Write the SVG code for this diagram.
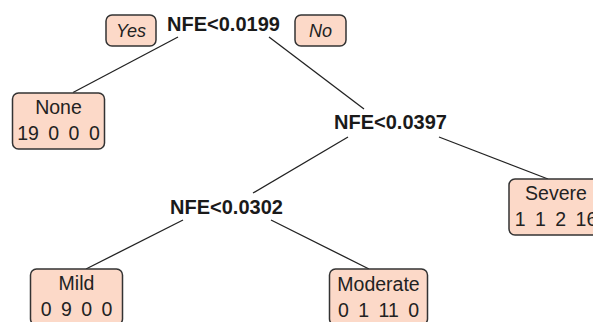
<svg xmlns="http://www.w3.org/2000/svg" width="593" height="322" viewBox="0 0 593 322">
<style>
.box{fill:#fcd9c8;stroke:#333;stroke-width:1.5}
.lbl{font-family:"Liberation Sans",Arial,sans-serif;font-size:19.5px;fill:#222;text-anchor:middle}
.cnt{word-spacing:4px}
.split{font-family:"Liberation Sans",Arial,sans-serif;font-size:20px;font-weight:bold;fill:#1a1a1a;text-anchor:middle}
.yn{font-family:"Liberation Sans",Arial,sans-serif;font-size:18px;font-style:italic;fill:#222;text-anchor:middle}
.edge{stroke:#222;stroke-width:1.3;fill:none}
</style>
<rect width="593" height="322" fill="#fff"/>
<g id="connectors">
<line class="edge" x1="178" y1="37" x2="73" y2="92.5"/>
<line class="edge" x1="269" y1="37" x2="364" y2="109"/>
<line class="edge" x1="348" y1="137" x2="253" y2="193"/>
<line class="edge" x1="439" y1="137" x2="548" y2="179"/>
<line class="edge" x1="183" y1="220" x2="86" y2="269"/>
<line class="edge" x1="271" y1="220" x2="369" y2="269"/>
</g>
<g id="edge-labels">
<g id="yes"><rect class="box" x="106" y="15" width="50" height="31" rx="6"/><text class="yn" x="131" y="37">Yes</text></g>
<g id="no"><rect class="box" x="295" y="15" width="51" height="31" rx="6"/><text class="yn" x="320.5" y="37">No</text></g>
</g>
<g id="split1"><text class="split" x="223.5" y="31">NFE&lt;0.0199</text></g>
<g id="split2"><text class="split" x="390.5" y="129">NFE&lt;0.0397</text></g>
<g id="split3"><text class="split" x="226.5" y="214">NFE&lt;0.0302</text></g>
<g id="none"><rect class="box" x="12.5" y="93" width="92" height="56" rx="6"/><text class="lbl" x="58.5" y="114">None</text><text class="lbl cnt" x="58.5" y="140">19 0 0 0</text></g>
<g id="severe"><rect class="box" x="509" y="179" width="94" height="56" rx="6"/><text class="lbl" x="556" y="200">Severe</text><text class="lbl cnt" x="556" y="226">1 1 2 16</text></g>
<g id="mild"><rect class="box" x="30.5" y="269" width="92" height="56" rx="6"/><text class="lbl" x="76.5" y="290">Mild</text><text class="lbl cnt" x="76.5" y="316">0 9 0 0</text></g>
<g id="moderate"><rect class="box" x="329.5" y="269" width="98" height="56" rx="6"/><text class="lbl" x="378.5" y="291">Moderate</text><text class="lbl cnt" x="378.5" y="317">0 1 11 0</text></g>
</svg>
